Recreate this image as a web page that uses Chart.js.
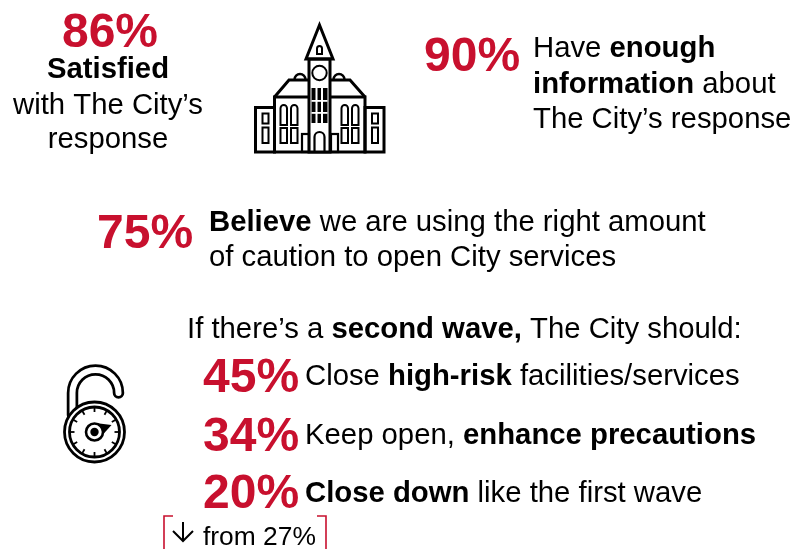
<!DOCTYPE html>
<html>
<head>
<meta charset="utf-8">
<style>
  html, body { margin: 0; padding: 0; background: #fff; }
  canvas { display: block; }
</style>
<script src="https://cdn.jsdelivr.net/npm/chart.js@4/dist/chart.umd.min.js"></script>
</head>
<body>
<canvas id="grafico" width="794" height="549"></canvas>
<script>
// values
const statKeys = ['satisfied', 'information', 'caution', 'highRisk', 'enhance', 'closeDown'];
const statValues = [86, 90, 75, 45, 34, 20];
const previousCloseDown = 27;

const RED = '#c8102e';
const INK = '#000000';
const FONT = '"Liberation Sans", Arial, sans-serif';
const BODY_SIZE = 29.3;

// where each big number sits: [x, baseline, font size, align]
const statPlace = {
  satisfied: [110, 47, 48, 'center'],
  information: [424, 71, 48, 'left'],
  caution: [97, 248, 48, 'left'],
  highRisk: [203, 392, 48, 'left'],
  enhance: [203, 451, 48, 'left'],
  closeDown: [203, 508, 48, 'left']
};

// text lines: [x, baseline, align, runs], a run is [text, bold]
const textLines = [
  [108, 78, 'center', [['Satisfied', true]]],
  [108, 114, 'center', [['with The City’s', false]]],
  [108, 148, 'center', [['response', false]]],
  [533, 57, 'left', [['Have ', false], ['enough', true]]],
  [533, 93, 'left', [['information', true], [' about', false]]],
  [533, 128, 'left', [['The City’s response', false]]],
  [209, 231, 'left', [['Believe', true], [' we are using the right amount', false]]],
  [209, 266, 'left', [['of caution to open City services', false]]],
  [187, 338, 'left', [['If there’s a ', false], ['second wave,', true], [' The City should:', false]]],
  [305, 385, 'left', [['Close ', false], ['high-risk', true], [' facilities/services', false]]],
  [305, 444, 'left', [['Keep open, ', false], ['enhance precautions', true]]],
  [305, 502, 'left', [['Close down', true], [' like the first wave', false]]]
];

function drawRuns(ctx, x, y, align, runs, size) {
  const fontOf = bold => (bold ? 'bold ' : '') + size + 'px ' + FONT;
  let width = 0;
  runs.forEach(r => {
    ctx.font = fontOf(r[1]);
    width += ctx.measureText(r[0]).width;
  });
  let cx = align === 'center' ? x - width / 2 : x;
  ctx.textAlign = 'left';
  runs.forEach(r => {
    ctx.font = fontOf(r[1]);
    ctx.fillText(r[0], cx, y);
    cx += ctx.measureText(r[0]).width;
  });
}

function line(ctx, pts, close) {
  ctx.beginPath();
  pts.forEach((p, i) => (i ? ctx.lineTo(p[0], p[1]) : ctx.moveTo(p[0], p[1])));
  if (close) ctx.closePath();
  ctx.stroke();
}

function archWindow(ctx, x, y, w, h) {
  const r = w / 2;
  ctx.beginPath();
  ctx.moveTo(x, y + h);
  ctx.lineTo(x, y + r);
  ctx.arc(x + r, y + r, r, Math.PI, 0);
  ctx.lineTo(x + w, y + h);
  ctx.closePath();
  ctx.stroke();
}

function drawCityHall(ctx) {
  ctx.save();
  ctx.strokeStyle = INK;
  ctx.fillStyle = '#fff';
  ctx.lineJoin = 'miter';
  ctx.lineWidth = 3;

  // small domes behind the roof
  ctx.lineWidth = 2.4;
  [300, 339].forEach(x => {
    ctx.beginPath();
    ctx.arc(x, 79.5, 5.5, Math.PI, 0);
    ctx.stroke();
  });
  ctx.lineWidth = 3;

  // side wings
  ctx.strokeRect(255.5, 107.5, 19, 44.5);
  ctx.strokeRect(365, 107.5, 19, 44.5);
  // main block and roof
  ctx.strokeRect(274.5, 97, 90.5, 55);
  line(ctx, [[274.5, 97], [289, 80], [350, 80], [365, 97]], false);

  // side wing windows
  ctx.lineWidth = 2;
  [262.5, 372].forEach(x => {
    ctx.strokeRect(x, 113.5, 6, 10);
    ctx.strokeRect(x, 127.5, 6, 15.5);
  });

  // wing windows, arched on top, square below
  [280.5, 291, 341.5, 352].forEach(x => {
    archWindow(ctx, x, 105, 6.5, 20);
    ctx.strokeRect(x, 128, 6.5, 15);
  });

  // tower
  ctx.lineWidth = 3;
  ctx.fillRect(309, 59, 21, 93);
  ctx.strokeRect(309, 59, 21, 93);
  line(ctx, [[306, 59], [319.5, 25], [333, 59]], true);
  ctx.lineWidth = 2;
  archWindow(ctx, 317, 46, 5, 8);

  // clock
  ctx.beginPath();
  ctx.arc(319.5, 73, 7.2, 0, Math.PI * 2);
  ctx.stroke();

  // tall tower window
  ctx.fillStyle = INK;
  ctx.fillRect(311.5, 88, 16, 35);
  ctx.fillStyle = '#fff';
  [315.5, 321].forEach(x => ctx.fillRect(x, 88, 2, 35));
  [100, 112].forEach(y => ctx.fillRect(311.5, y, 16, 1.8));

  // door and porch
  ctx.lineWidth = 2.2;
  archWindow(ctx, 314.5, 132, 10, 20);
  ctx.strokeRect(302, 134, 7, 18);
  ctx.strokeRect(331, 134, 7, 18);
  ctx.restore();
}

function drawLock(ctx) {
  const cx = 94.5, cy = 432;
  ctx.save();
  ctx.lineCap = 'round';

  // open shackle as a hollow tube
  const shackle = () => {
    ctx.beginPath();
    ctx.moveTo(72.5, 415);
    ctx.lineTo(72.5, 393);
    ctx.arc(95.5, 393, 23, Math.PI, 0);
    ctx.stroke();
  };
  ctx.strokeStyle = INK;
  ctx.lineWidth = 11.5;
  shackle();
  ctx.strokeStyle = '#fff';
  ctx.lineWidth = 6;
  shackle();

  // dial
  ctx.strokeStyle = INK;
  ctx.fillStyle = '#fff';
  ctx.lineWidth = 2.8;
  ctx.beginPath();
  ctx.arc(cx, cy, 30, 0, Math.PI * 2);
  ctx.fill();
  ctx.stroke();
  ctx.beginPath();
  ctx.arc(cx, cy, 25, 0, Math.PI * 2);
  ctx.stroke();

  // dial ticks
  ctx.lineCap = 'butt';
  ctx.lineWidth = 1.8;
  for (let i = 0; i < 12; i++) {
    const a = i * Math.PI / 6;
    line(ctx, [
      [cx + Math.cos(a) * 20, cy + Math.sin(a) * 20],
      [cx + Math.cos(a) * 25, cy + Math.sin(a) * 25]
    ], false);
  }

  // pointer
  ctx.fillStyle = INK;
  ctx.beginPath();
  ctx.moveTo(cx + 1, cy - 9);
  ctx.lineTo(cx + 17, cy - 7);
  ctx.lineTo(cx + 8, cy + 3);
  ctx.closePath();
  ctx.fill();

  // knob
  ctx.fillStyle = '#fff';
  ctx.lineWidth = 2.6;
  ctx.beginPath();
  ctx.arc(cx, cy, 8.5, 0, Math.PI * 2);
  ctx.fill();
  ctx.stroke();
  ctx.fillStyle = INK;
  ctx.beginPath();
  ctx.arc(cx, cy, 4.2, 0, Math.PI * 2);
  ctx.fill();
  ctx.restore();
}

function drawFromNote(ctx) {
  ctx.save();
  // red corner brackets
  ctx.strokeStyle = RED;
  ctx.lineWidth = 1.6;
  line(ctx, [[173, 516], [164, 516], [164, 549]], false);
  line(ctx, [[317, 516], [326, 516], [326, 549]], false);

  // down arrow
  ctx.strokeStyle = INK;
  ctx.lineWidth = 2;
  line(ctx, [[183, 522], [183, 541]], false);
  line(ctx, [[173, 531], [183, 541], [193, 531]], false);

  ctx.fillStyle = INK;
  ctx.textBaseline = 'alphabetic';
  drawRuns(ctx, 203, 545, 'left', [['from ' + previousCloseDown + '%', false]], 26.4);
  ctx.restore();
}

const infographic = {
  id: 'infographic',
  afterDatasetsDraw(chart) {
    const ctx = chart.ctx;
    const xs = chart.scales.x;
    const ys = chart.scales.y;
    ctx.save();
    ctx.textBaseline = 'alphabetic';

    // big red numbers come from the dataset points
    ctx.fillStyle = RED;
    chart.getDatasetMeta(0).data.forEach((pt, i) => {
      const p = statPlace[statKeys[i]];
      ctx.font = 'bold ' + p[2] + 'px ' + FONT;
      ctx.textAlign = p[3];
      ctx.fillText(statValues[i] + '%', pt.x, pt.y);
    });

    ctx.fillStyle = INK;
    textLines.forEach(l => {
      drawRuns(ctx, xs.getPixelForValue(l[0]), ys.getPixelForValue(l[1]), l[2], l[3], BODY_SIZE);
    });
    ctx.restore();

    drawCityHall(ctx);
    drawLock(ctx);
    drawFromNote(ctx);
  }
};

new Chart(document.getElementById('grafico'), {
  type: 'scatter',
  data: {
    labels: statKeys,
    datasets: [{
      data: statKeys.map(k => ({ x: statPlace[k][0], y: statPlace[k][1] })),
      pointRadius: 0
    }]
  },
  options: {
    responsive: false,
    animation: false,
    layout: { padding: 0 },
    plugins: { legend: { display: false }, tooltip: { enabled: false } },
    scales: {
      x: { type: 'linear', min: 0, max: 794, display: false },
      y: { type: 'linear', min: 0, max: 549, reverse: true, display: false }
    }
  },
  plugins: [infographic]
});
</script>
</body>
</html>
